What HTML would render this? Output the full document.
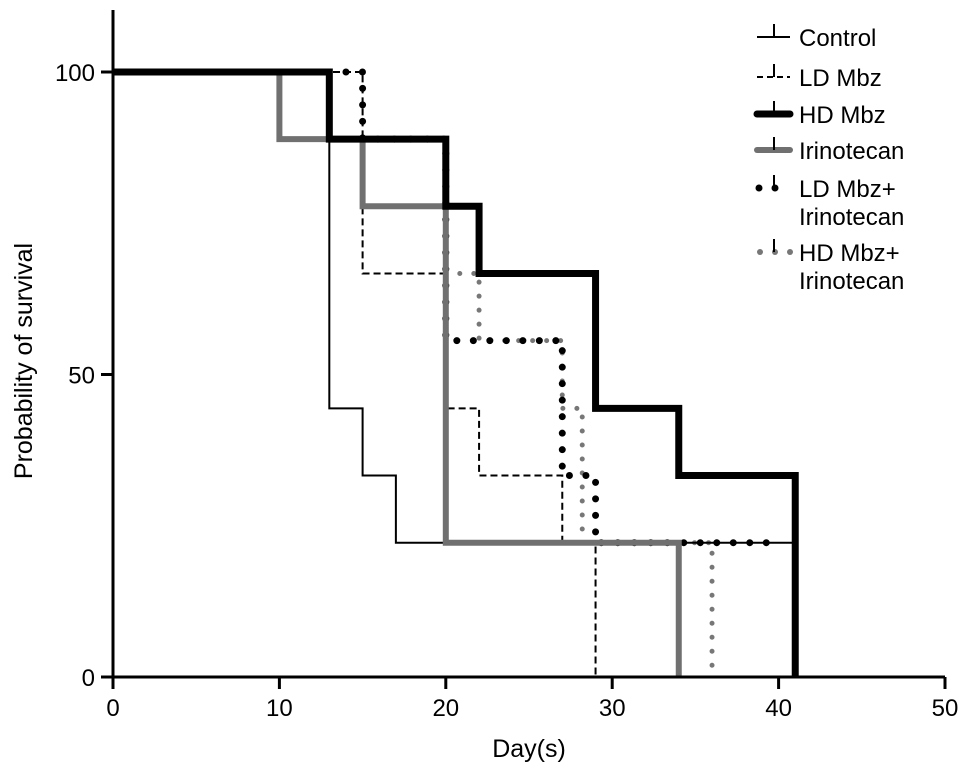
<!DOCTYPE html>
<html><head><meta charset="utf-8"><style>
body{margin:0;background:#fff;}
svg text{font-family:"Liberation Sans",Arial,sans-serif;fill:#000;}
</style></head><body>
<svg id="chart" width="969" height="776" xmlns="http://www.w3.org/2000/svg"></svg>
<script>
const xTicks=[0,10,20,30,40,50];
const yTicks=[0,50,100];
const seriesNames=["Control","LD Mbz","HD Mbz","Irinotecan","LD Mbz+ Irinotecan","HD Mbz+ Irinotecan"];
const controlDays=[0,13,15,17,41];
const controlVals=[100,44.4,33.3,22.2,22.2];
const ldDays=[0,15,20,22,27,29];
const ldVals=[100,66.7,44.4,33.3,22.2,0];
const hdDays=[0,13,20,22,29,34,41];
const hdVals=[100,88.9,77.8,66.7,44.4,33.3,0];
const iriDays=[0,10,15,20,34];
const iriVals=[100,88.9,77.8,22.2,0];
const ldIriDays=[14,15,20,27,29,40];
const ldIriVals=[100,88.9,55.6,33.3,22.2,22.2];
const hdIriDays=[20,22,27,28.2,36];
const hdIriVals=[66.7,55.6,44.4,22.2,0];

const svg=document.getElementById('chart');
const NS="http://www.w3.org/2000/svg";
const X0=113,X1=945,Y0=677,Y1=72;
const xs=d=>X0+(d/50)*(X1-X0);
const ys=v=>Y0-(v/100)*(Y0-Y1);
function mk(t,a,p){const e=document.createElementNS(NS,t);for(const k in a)e.setAttribute(k,a[k]);(p||svg).appendChild(e);return e;}

function stepPath(days,vals){
  let d="M"+xs(days[0])+","+ys(vals[0]);
  for(let i=1;i<days.length;i++){d+=" H"+xs(days[i])+" V"+ys(vals[i]);}
  return d;
}
const styles=[
 {days:hdIriDays,vals:hdIriVals,stroke:"#777",w:5,dash:"0,14",cap:"round"},
 {days:ldIriDays,vals:ldIriVals,stroke:"#000",w:7,dash:"0,16.5",cap:"round"},
 {days:controlDays,vals:controlVals,stroke:"#000",w:2,dash:null,cap:"butt"},
 {days:ldDays,vals:ldVals,stroke:"#000",w:2,dash:"7,4",cap:"butt"},
 {days:iriDays,vals:iriVals,stroke:"#707070",w:6,dash:null,cap:"butt"},
 {days:hdDays,vals:hdVals,stroke:"#000",w:7,dash:null,cap:"butt"}
];
const names=["hd-mbz-irinotecan-curve","ld-mbz-irinotecan-curve","control-curve","ld-mbz-curve","irinotecan-curve","hd-mbz-curve"];
styles.forEach((s,i)=>{
  const a={d:stepPath(s.days,s.vals),fill:"none",stroke:s.stroke,"stroke-width":s.w,"stroke-linecap":s.cap};
  if(s.dash)a["stroke-dasharray"]=s.dash;
  const p=mk("path",a);
  
  
});

const ax=mk("g",{});


mk("line",{x1:X0,y1:10,x2:X0,y2:Y0+1.5,stroke:"#000","stroke-width":3},ax);
mk("line",{x1:X0-1.5,y1:Y0,x2:X1,y2:Y0,stroke:"#000","stroke-width":3},ax);
xTicks.forEach(t=>{
  mk("line",{x1:xs(t),y1:Y0,x2:xs(t),y2:Y0+12,stroke:"#000","stroke-width":3},ax);
  const tx=mk("text",{x:xs(t),y:Y0+39,"text-anchor":"middle","font-size":24},ax);tx.textContent=t;
  
  
});
yTicks.forEach(t=>{
  mk("line",{x1:X0-12,y1:ys(t),x2:X0,y2:ys(t),stroke:"#000","stroke-width":3},ax);
  const tx=mk("text",{x:X0-18,y:ys(t)+9,"text-anchor":"end","font-size":24},ax);tx.textContent=t;
  
  
});
const xt=mk("text",{x:529,y:757,"text-anchor":"middle","font-size":25});xt.textContent="Day(s)";


const yt=mk("text",{x:0,y:0,"text-anchor":"middle","font-size":25,transform:"translate(32,361) rotate(-90)"});yt.textContent="Probability of survival";



const lg=mk("g",{});


const legY=[37,77,114,150,188,252];
const lx1=757,lx2=790;
function leg(i,y){
  if(i===0){mk("line",{x1:lx1,y1:y,x2:lx2,y2:y,stroke:"#000","stroke-width":2},lg);}
  if(i===1){mk("line",{x1:lx1,y1:y,x2:lx2,y2:y,stroke:"#000","stroke-width":2,"stroke-dasharray":"6,4"},lg);}
  if(i===2){mk("line",{x1:lx1,y1:y,x2:lx2,y2:y,stroke:"#000","stroke-width":7,"stroke-linecap":"round"},lg);}
  if(i===3){mk("line",{x1:lx1,y1:y,x2:lx2,y2:y,stroke:"#707070","stroke-width":6,"stroke-linecap":"round"},lg);}
  if(i===4){mk("circle",{cx:lx1+2,cy:y,r:3.5,fill:"#000"},lg);mk("circle",{cx:lx1+18,cy:y,r:3.5,fill:"#000"},lg);}
  if(i===5){[0,15,30].forEach(o=>mk("circle",{cx:lx1+3+o,cy:y,r:3,fill:"#777"},lg));}
  mk("line",{x1:lx1+17,y1:y-13,x2:lx1+17,y2:y,stroke:"#000","stroke-width":2},lg);
}
const legText=[["Control"],["LD Mbz"],["HD Mbz"],["Irinotecan"],["LD Mbz+","Irinotecan"],["HD Mbz+","Irinotecan"]];
legText.forEach((lines,i)=>{
  leg(i,legY[i]);
  lines.forEach((s,j)=>{
    const t=mk("text",{x:799,y:legY[i]+9+j*28,"font-size":24},lg);t.textContent=s;
    
    
  });
});
</script>
</body></html>
